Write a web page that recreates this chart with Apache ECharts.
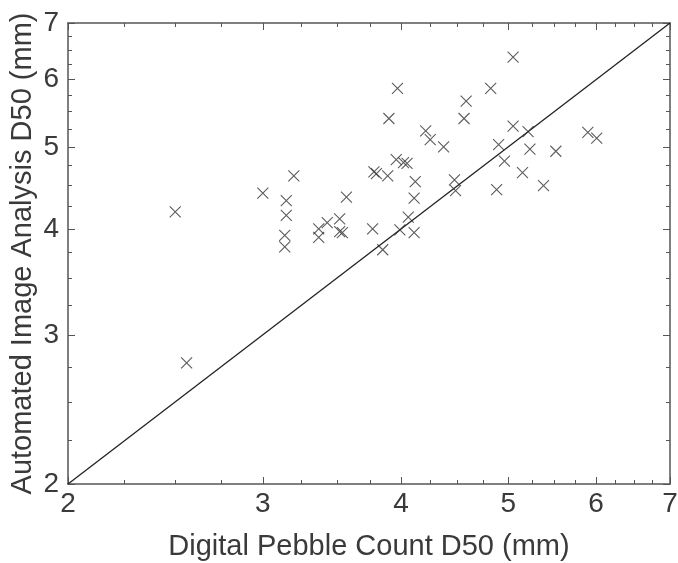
<!DOCTYPE html>
<html>
<head>
<meta charset="utf-8">
<script src="https://cdn.jsdelivr.net/npm/echarts@6/dist/echarts.min.js"></script>
<style>
  html, body { margin: 0; padding: 0; background: #fff; }
  #chart { width: 678px; height: 563px; }
</style>
</head>
<body>
<div id="chart"></div>
<script>
// Digital pebble count D50 (mm)
const pebbleD50 = [
  2.50, 2.56, 3.00, 3.15, 3.15, 3.14, 3.14, 3.20, 3.37, 3.37,
  3.43, 3.52, 3.52, 3.54, 3.57, 3.77, 3.78, 3.80, 3.85, 3.89,
  3.90, 3.97, 3.96, 4.02, 4.05, 3.99, 4.06, 4.12, 4.11, 4.11,
  4.21, 4.25, 4.37, 4.47, 4.48, 4.56, 4.58, 4.82, 4.88, 4.90,
  4.96, 5.05, 5.05, 5.15, 5.21, 5.23, 5.38, 5.52, 5.90, 6.01
]
// Automated image analysis D50 (mm)
const imageD50 = [
  4.19, 2.78, 4.41, 4.32, 4.15, 3.93, 3.81, 4.62, 4.00, 3.91,
  4.07, 4.11, 3.97, 3.96, 4.36, 4.00, 4.67, 4.65, 3.78, 4.62,
  5.40, 5.86, 4.83, 4.79, 4.78, 3.99, 4.13, 4.55, 4.35, 3.96,
  5.22, 5.10, 5.00, 4.57, 4.44, 5.40, 5.66, 5.86, 4.45, 5.03,
  4.81, 6.38, 5.29, 4.66, 5.21, 4.97, 4.50, 4.94, 5.20, 5.12
]
// 1:1 line
const oneToOne = [2, 7]

const majorTicks = [2, 3, 4, 5, 6, 7]
const minorTicks = [2.25, 2.5, 2.75, 3.25, 3.5, 3.75, 4.25, 4.5, 4.75,
  5.25, 5.5, 5.75, 6.25, 6.5, 6.75]

const textColor = '#3a3a3a'
const lineColor = '#555'
const font = 'Liberation Sans, Arial, sans-serif'

// one log axis; major/minor and top/bottom versions are built from this
const makeAxis = (position, ticks, tickLen, showLine, showLabel, name) => ({
  type: 'log',
  min: 2,
  max: 7,
  position: position,
  splitLine: { show: false },
  axisLine: { show: showLine, lineStyle: { color: lineColor, width: 1.5 } },
  axisTick: {
    show: true,
    inside: true,
    length: tickLen,
    customValues: ticks,
    lineStyle: { color: lineColor, width: 1 }
  },
  axisLabel: {
    show: showLabel,
    customValues: majorTicks,
    color: textColor,
    fontFamily: font,
    fontSize: 28,
    margin: 6,
    formatter: (v) => String(Math.round(v))
  },
  name: name || '',
  nameLocation: 'middle',
  nameMoveOverlap: false,
  nameTextStyle: { color: textColor, fontFamily: font, fontSize: 29 }
})

const xMain = makeAxis('bottom', majorTicks, 7, true, true, 'Digital Pebble Count D50 (mm)')
xMain.nameGap = 48
const yMain = makeAxis('left', majorTicks, 7, true, true, 'Automated Image Analysis D50 (mm)')
yMain.nameGap = 31
yMain.axisLabel.margin = 9

const chart = echarts.init(document.getElementById('chart'))
chart.setOption({
  animation: false,
  backgroundColor: '#fff',
  grid: { left: 68, right: 8, top: 23, bottom: 79, show: false, outerBoundsMode: 'none', containLabel: false },
  xAxis: [
    xMain,
    makeAxis('bottom', minorTicks, 4, false, false),
    makeAxis('top', majorTicks, 7, true, false),
    makeAxis('top', minorTicks, 4, false, false)
  ],
  yAxis: [
    yMain,
    makeAxis('left', minorTicks, 4, false, false),
    makeAxis('right', majorTicks, 7, true, false),
    makeAxis('right', minorTicks, 4, false, false)
  ],
  series: [
    {
      type: 'line',
      data: oneToOne.map((v) => [v, v]),
      symbol: 'none',
      lineStyle: { color: '#222', width: 1.3 },
      z: 1
    },
    {
      type: 'scatter',
      data: pebbleD50.map((x, i) => [x, imageD50[i]]),
      symbol: 'path://M0,0L10,10M10,0L0,10',
      symbolSize: 11,
      itemStyle: { color: 'transparent', borderColor: '#333', borderWidth: 1.1 },
      z: 2
    }
  ]
})
</script>
</body>
</html>
